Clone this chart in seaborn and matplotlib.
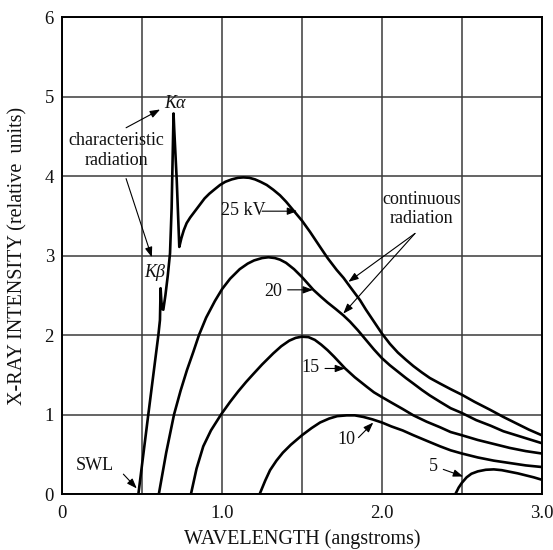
import numpy as np
import pandas as pd
import matplotlib
matplotlib.use("Agg")
import matplotlib.pyplot as plt
import seaborn as sns

# Wavelength (angstroms) and intensity (relative units) for each tube voltage
lam_25 = [0.476, 0.538, 0.601, 0.611, 0.615, 0.619, 0.624, 0.632, 0.645, 0.660, 0.674,
          0.684, 0.696, 0.700, 0.716, 0.732, 0.745, 0.760, 0.778, 0.800, 0.830, 0.860,
          0.890, 0.920, 0.950, 0.987, 1.020, 1.060, 1.100, 1.133, 1.170, 1.206, 1.240,
          1.279, 1.320, 1.362, 1.400, 1.450, 1.500, 1.550, 1.613, 1.660, 1.717, 1.760,
          1.800, 1.863, 1.900, 1.950, 2.000, 2.050, 2.100, 2.150, 2.197, 2.250, 2.300,
          2.364, 2.430, 2.500, 2.580, 2.677, 2.760, 2.840, 2.920, 3.000]
int_25 = [0.00, 1.00, 2.00, 2.19, 2.59, 2.45, 2.33, 2.32, 2.50, 2.75, 3.03,
          3.60, 4.79, 4.60, 3.95, 3.11, 3.22, 3.32, 3.41, 3.48, 3.56, 3.64,
          3.72, 3.78, 3.83, 3.89, 3.93, 3.96, 3.98, 3.985, 3.98, 3.96, 3.93,
          3.89, 3.83, 3.76, 3.68, 3.56, 3.44, 3.30, 3.11, 2.97, 2.82, 2.72,
          2.61, 2.44, 2.32, 2.17, 2.02, 1.89, 1.78, 1.69, 1.61, 1.53, 1.46,
          1.39, 1.32, 1.25, 1.16, 1.06, 0.97, 0.89, 0.81, 0.74]

lam_20 = [0.604, 0.650, 0.699, 0.740, 0.780, 0.820, 0.855, 0.900, 0.955, 1.000, 1.050,
          1.110, 1.160, 1.200, 1.250, 1.290, 1.330, 1.362, 1.400, 1.450, 1.500, 1.571,
          1.620, 1.660, 1.710, 1.758, 1.800, 1.850, 1.900, 1.950, 2.000, 2.050, 2.100,
          2.150, 2.197, 2.250, 2.300, 2.364, 2.430, 2.500, 2.590, 2.680, 2.760, 2.840,
          2.920, 3.000]
int_20 = [0.00, 0.52, 1.00, 1.30, 1.56, 1.79, 2.00, 2.22, 2.43, 2.58, 2.71,
          2.83, 2.90, 2.94, 2.97, 2.98, 2.97, 2.95, 2.91, 2.83, 2.73, 2.57,
          2.48, 2.41, 2.33, 2.25, 2.17, 2.06, 1.94, 1.82, 1.71, 1.62, 1.54,
          1.46, 1.39, 1.31, 1.24, 1.16, 1.08, 1.02, 0.93, 0.86, 0.79, 0.74,
          0.69, 0.64]

lam_15 = [0.805, 0.840, 0.882, 0.930, 0.993, 1.050, 1.100, 1.150, 1.195, 1.250, 1.320,
          1.370, 1.420, 1.460, 1.498, 1.540, 1.580, 1.620, 1.660, 1.700, 1.770, 1.830,
          1.905, 1.950, 2.000, 2.060, 2.130, 2.197, 2.280, 2.364, 2.430, 2.500, 2.600,
          2.700, 2.800, 2.900, 3.000]
int_15 = [0.00, 0.32, 0.60, 0.80, 1.00, 1.16, 1.29, 1.41, 1.51, 1.63, 1.77,
          1.86, 1.93, 1.965, 1.98, 1.975, 1.94, 1.88, 1.81, 1.73, 1.58, 1.47,
          1.35, 1.28, 1.22, 1.15, 1.07, 0.99, 0.91, 0.84, 0.78, 0.74, 0.68,
          0.63, 0.58, 0.54, 0.51]

lam_10 = [1.235, 1.270, 1.300, 1.340, 1.380, 1.430, 1.500, 1.560, 1.613, 1.670, 1.720,
          1.780, 1.830, 1.884, 1.940, 2.000, 2.060, 2.130, 2.197, 2.280, 2.364, 2.430,
          2.500, 2.600, 2.700, 2.800, 2.900, 3.000]
int_10 = [0.00, 0.17, 0.30, 0.42, 0.52, 0.62, 0.74, 0.83, 0.90, 0.95, 0.98,
          0.99, 0.99, 0.97, 0.94, 0.90, 0.85, 0.80, 0.74, 0.67, 0.60, 0.55,
          0.51, 0.46, 0.42, 0.39, 0.36, 0.34]

lam_5 = [2.460, 2.480, 2.500, 2.530, 2.560, 2.600, 2.650, 2.700, 2.750, 2.800, 2.850,
         2.900, 2.950, 3.000]
int_5 = [0.00, 0.08, 0.14, 0.21, 0.255, 0.285, 0.305, 0.31, 0.30, 0.28, 0.26,
         0.235, 0.21, 0.18]

voltages = ["25 kV", "20", "15", "10", "5"]
series = [(lam_25, int_25), (lam_20, int_20), (lam_15, int_15),
          (lam_10, int_10), (lam_5, int_5)]

x_ticks = [0, 0.5, 1.0, 1.5, 2.0, 2.5, 3.0]
x_tick_labels = ["0", "", "1.0", "", "2.0", "", "3.0"]
y_ticks = [0, 1, 2, 3, 4, 5, 6]
y_tick_labels = ["0", "1", "2", "3", "4", "5", "6"]

frames = []
for v, (lam, inten) in zip(voltages, series):
    frames.append(pd.DataFrame({"wavelength": lam, "intensity": inten, "kV": v}))
df = pd.concat(frames, ignore_index=True)

sns.set_style("white")
plt.rcParams["font.family"] = ["Liberation Serif", "DejaVu Serif"]
plt.rcParams["text.color"] = "#111111"

fig = plt.figure(figsize=(5.53, 5.50), dpi=100)
ax = fig.add_axes([0.1127, 0.1018, 0.8669, 0.8667])

sns.lineplot(data=df, x="wavelength", y="intensity", units="kV", estimator=None,
             sort=False, color="black", linewidth=1.9, ax=ax, legend=False)
for ln in ax.lines:
    ln.set_solid_joinstyle("round")

ax.set_xlim(0, 3.0)
ax.set_ylim(0, 6)
ax.set_xticks(x_ticks)
ax.set_xticklabels(x_tick_labels)
ax.set_yticks(y_ticks)
ax.set_yticklabels(y_tick_labels)
ax.tick_params(axis="both", length=0, labelsize=13.5, colors="#111111")
ax.tick_params(axis="x", pad=8)
ax.tick_params(axis="y", pad=6)
ax.grid(True, color="#3a3a3a", linewidth=1.1)
ax.set_axisbelow(True)
for sp in ax.spines.values():
    sp.set_color("black")
    sp.set_linewidth(1.4)

ax.set_xlabel("WAVELENGTH (angstroms)", fontsize=14.5, color="#111111")
ax.set_ylabel("X-RAY INTENSITY (relative  units)", fontsize=14.5, color="#111111")
ax.xaxis.set_label_coords(0.5, -0.074)
ax.yaxis.set_label_coords(-0.072, 0.5)

fs = 13
arrow = dict(arrowstyle="-|>,head_length=0.6,head_width=0.22", color="black",
             lw=0.8, shrinkA=0, shrinkB=0)

# characteristic lines
ax.text(0.706, 4.92, "Kα", fontsize=fs, style="italic", ha="center", va="center")
ax.text(0.34, 4.32, "characteristic\nradiation", fontsize=fs, ha="center",
        va="center", linespacing=1.2)
ax.annotate("", xy=(0.612, 4.84), xytext=(0.399, 4.61), arrowprops=arrow)
ax.annotate("", xy=(0.56, 2.98), xytext=(0.399, 3.97), arrowprops=arrow)
ax.text(0.578, 2.79, "Kβ", fontsize=fs, style="italic", ha="center", va="center")

# voltage labels
ax.text(1.133, 3.57, "25 kV", fontsize=fs, ha="center", va="center")
ax.annotate("", xy=(1.47, 3.56), xytext=(1.25, 3.56), arrowprops=arrow)
ax.text(1.318, 2.55, "20", fontsize=fs, ha="center", va="center")
ax.annotate("", xy=(1.569, 2.57), xytext=(1.41, 2.57), arrowprops=arrow)
ax.text(1.55, 1.59, "15", fontsize=fs, ha="center", va="center")
ax.annotate("", xy=(1.77, 1.58), xytext=(1.644, 1.58), arrowprops=arrow)
ax.text(1.78, 0.69, "10", fontsize=fs, ha="center", va="center")
ax.annotate("", xy=(1.946, 0.90), xytext=(1.853, 0.71), arrowprops=arrow)
ax.text(2.322, 0.34, "5", fontsize=fs, ha="center", va="center")
ax.annotate("", xy=(2.509, 0.22), xytext=(2.384, 0.31), arrowprops=arrow)

# continuous spectrum
ax.text(2.249, 3.585, "continuous\nradiation", fontsize=fs, ha="center",
        va="center", linespacing=1.2)
ax.annotate("", xy=(1.79, 2.67), xytext=(2.207, 3.28), arrowprops=arrow)
ax.annotate("", xy=(1.758, 2.27), xytext=(2.207, 3.28), arrowprops=arrow)

# short-wavelength limit
ax.text(0.205, 0.365, "SWL", fontsize=fs, ha="center", va="center")
ax.annotate("", xy=(0.466, 0.07), xytext=(0.382, 0.25), arrowprops=arrow)

fig.savefig("out.png", dpi=100, facecolor="white")
